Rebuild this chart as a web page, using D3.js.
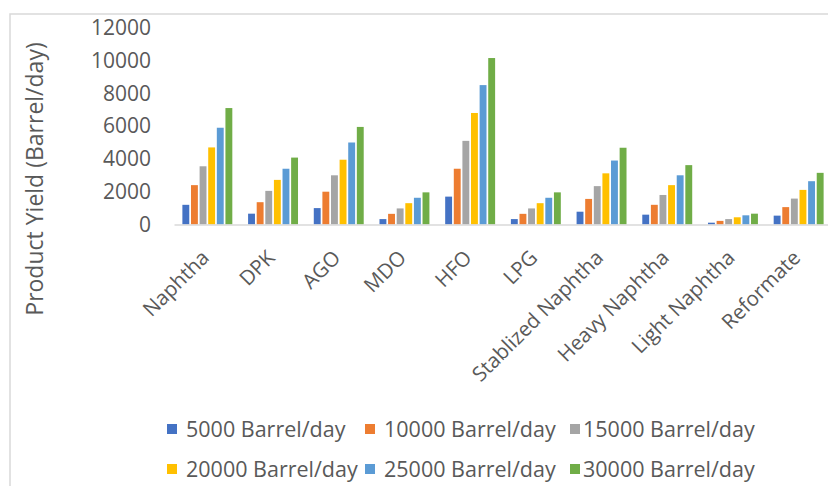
<!DOCTYPE html>
<html>
<head>
<meta charset="utf-8">
<script src="https://cdn.jsdelivr.net/npm/d3@7"></script>
<style>
  html, body { margin: 0; padding: 0; background: #fff; }
  svg { display: block; }
  text { font-family: "Open Sans", Lato, sans-serif; fill: #595959; }
</style>
</head>
<body>
<svg id="chart" width="828" height="486"></svg>
<script>
// Product yield per unit capacity
const categories = ["Naphtha", "DPK", "AGO", "MDO", "HFO", "LPG",
  "Stablized Naphtha", "Heavy Naphtha", "Light Naphtha", "Reformate"];

const seriesNames = ["5000 Barrel/day", "10000 Barrel/day", "15000 Barrel/day",
  "20000 Barrel/day", "25000 Barrel/day", "30000 Barrel/day"];

const cap5000  = [1200,  660, 1000,  330, 1700,  330,  780,  600, 110,  540];
const cap10000 = [2400, 1360, 2000,  650, 3400,  650, 1560, 1200, 220, 1060];
const cap15000 = [3550, 2050, 3000,  980, 5100,  980, 2340, 1800, 330, 1580];
const cap20000 = [4700, 2720, 3950, 1300, 6800, 1300, 3120, 2400, 440, 2110];
const cap25000 = [5900, 3400, 5000, 1630, 8500, 1630, 3900, 3000, 560, 2640];
const cap30000 = [7100, 4080, 5950, 1960, 10150, 1960, 4680, 3620, 660, 3150];

const yTicks = [0, 2000, 4000, 6000, 8000, 10000, 12000];

const colors = ["#4472C4", "#ED7D31", "#A5A5A5", "#FFC000", "#5B9BD5", "#70AD47"];

const seriesValues = [cap5000, cap10000, cap15000, cap20000, cap25000, cap30000];
const rows = categories.map((c, i) => ({
  category: c,
  values: seriesNames.map((s, j) => ({ series: s, value: seriesValues[j][i], idx: j }))
}));

const svg = d3.select("#chart");

// chart frame
svg.append("rect")
  .attr("x", 10).attr("y", 14)
  .attr("width", 900).attr("height", 600)
  .attr("fill", "none")
  .attr("stroke", "#d9d9d9")
  .attr("stroke-width", 1.5);

const plot = { left: 174.5, right: 831.5, top: 27.7, bottom: 224.5 };

const x0 = d3.scaleBand()
  .domain(categories)
  .range([plot.left, plot.right])
  .paddingInner(0.24)
  .paddingOuter(0.12);

const x1 = d3.scaleBand()
  .domain(seriesNames)
  .range([0, x0.bandwidth()])
  .paddingInner(0.2);

const y = d3.scaleLinear()
  .domain([0, 12000])
  .range([plot.bottom, plot.top]);

// y axis labels only
const yAxis = d3.axisLeft(y).tickValues(yTicks).tickSize(0).tickPadding(0)
  .tickFormat(d3.format("d"));
const yG = svg.append("g")
  .attr("transform", `translate(151,0)`)
  .call(yAxis);
yG.select(".domain").remove();
yG.selectAll("text")
  .style("font-family", "'Open Sans', Lato, sans-serif")
  .style("font-size", "21px")
  .attr("fill", "#595959");

// bars
const groups = svg.append("g").selectAll("g")
  .data(rows)
  .join("g")
  .attr("transform", d => `translate(${x0(d.category)},0)`);

groups.selectAll("rect")
  .data(d => d.values)
  .join("rect")
  .attr("x", d => x1(d.series))
  .attr("y", d => y(d.value))
  .attr("width", x1.bandwidth())
  .attr("height", d => y(0) - y(d.value))
  .attr("fill", d => colors[d.idx]);

// category axis line
svg.append("line")
  .attr("x1", plot.left).attr("x2", 828)
  .attr("y1", y(0) + 0.5).attr("y2", y(0) + 0.5)
  .attr("stroke", "#d9d9d9")
  .attr("stroke-width", 1.5);

// category labels, rotated
svg.append("g").selectAll("text")
  .data(categories)
  .join("text")
  .attr("transform", d => `translate(${x0(d) + x0.bandwidth() / 2 + 3},259) rotate(-45)`)
  .attr("text-anchor", "end")
  .style("font-size", "20.5px")
  .text(d => d);

// y axis title
svg.append("text")
  .attr("transform", "translate(43,179) rotate(-90)")
  .attr("text-anchor", "middle")
  .style("font-size", "23px")
  .text("Product Yield (Barrel/day)");

// legend: three columns, two rows
const legendCols = [167, 365, 570];
const legendRows = [424, 464];
const legend = svg.append("g").selectAll("g")
  .data(seriesNames)
  .join("g")
  .attr("transform", (d, i) => `translate(${legendCols[i % 3]},${legendRows[Math.floor(i / 3)]})`);

legend.append("rect")
  .attr("width", 10).attr("height", 10)
  .attr("fill", (d, i) => colors[i]);

legend.append("text")
  .attr("x", (d, i) => (i % 3 === 2 ? 13 : 19))
  .attr("y", 12.5)
  .style("font-size", "21.5px")
  .text(d => d);
</script>
</body>
</html>
